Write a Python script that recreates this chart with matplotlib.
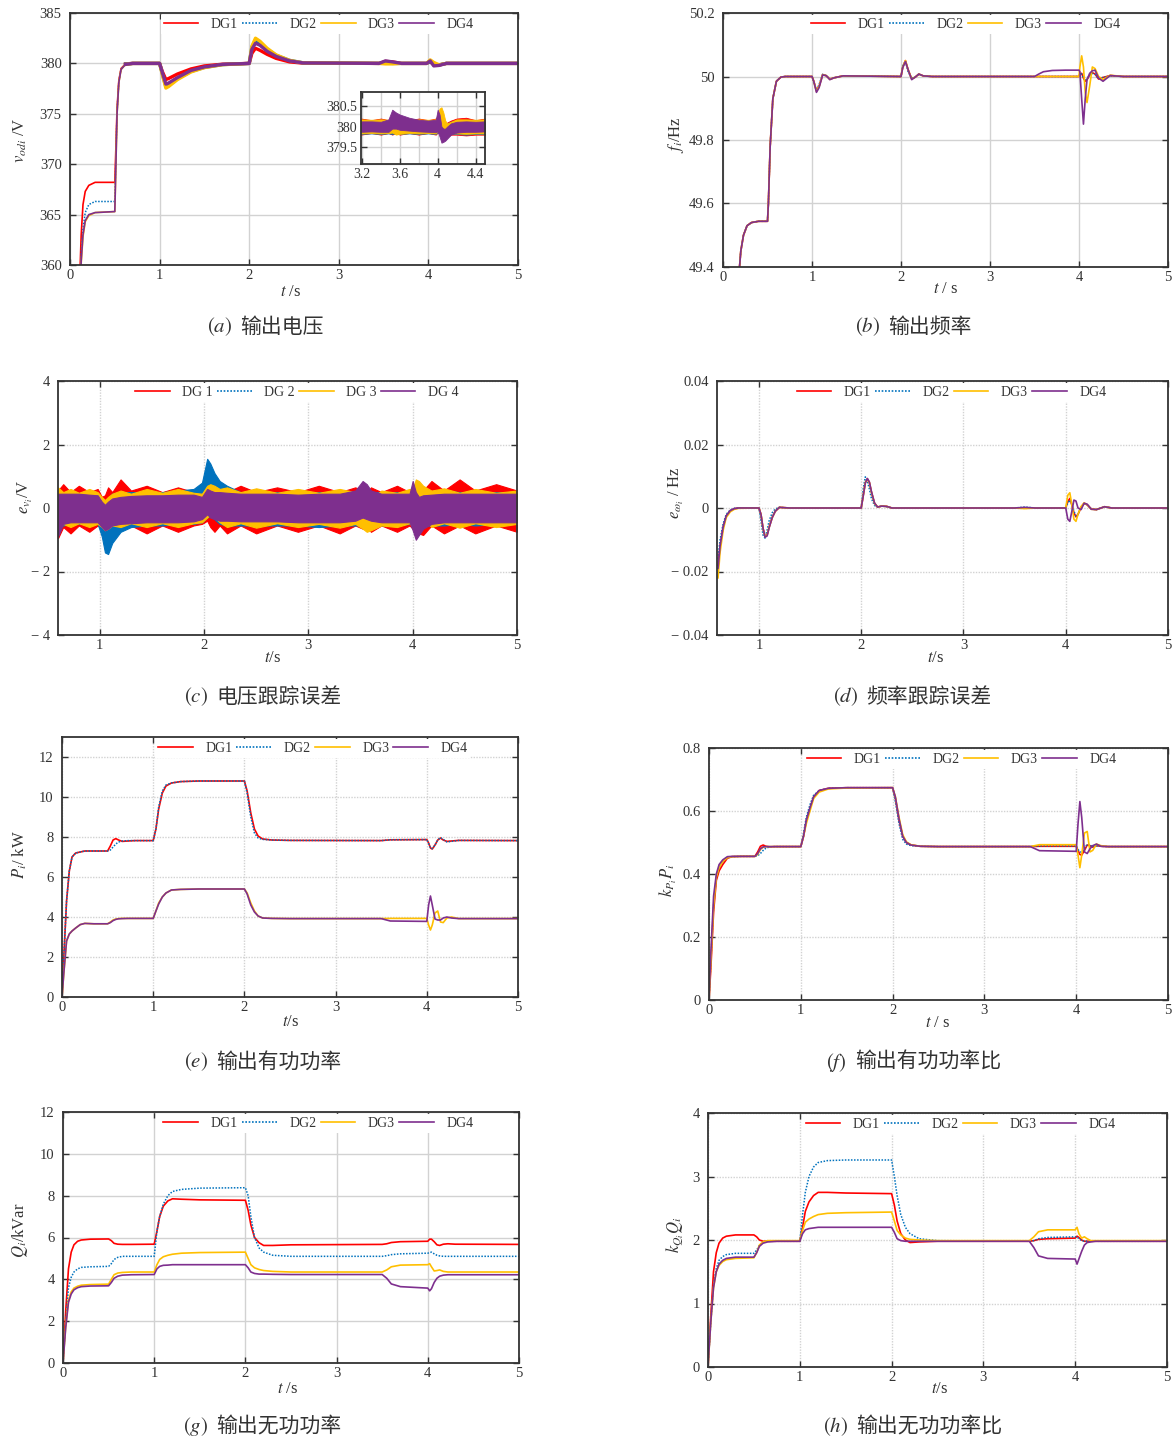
import matplotlib
matplotlib.use('Agg')
import matplotlib.pyplot as plt
from matplotlib.lines import Line2D

plt.rcParams['font.family'] = ['Liberation Serif', 'Noto Sans CJK SC', 'DejaVu Sans']
plt.rcParams['mathtext.fontset'] = 'stix'

# ---------------- data ----------------
series_labels = ['DG1', 'DG2', 'DG3', 'DG4']
series_labels_c = ['DG 1', 'DG 2', 'DG 3', 'DG 4']
colors = ['#FF0000', '#0072BD', '#FFBF00', '#7E2F8E']

# (a) output voltage
a_t = [0.11, 0.125, 0.145, 0.17, 0.21, 0.28, 0.5, 0.51, 0.525, 0.545, 0.57, 0.62, 0.7, 1.0, 1.03, 1.07, 1.1,
       1.2, 1.35, 1.5, 1.7, 2.0, 2.03, 2.07, 2.12, 2.2, 2.3, 2.45, 2.6, 3.45, 3.52, 3.6, 3.7, 3.98, 4.02, 4.06,
       4.12, 4.2, 5.0]
a_dg1 = [359, 363, 366, 367.3, 367.9, 368.2, 368.2, 371, 375.5, 378.3, 379.5, 379.95, 380, 380, 379.2, 378.4,
         378.5, 378.95, 379.45, 379.75, 379.92, 380, 381.0, 381.5, 381.3, 380.9, 380.5, 380.15, 380.03, 380,
         380.2, 380.15, 380, 380, 380.2, 379.85, 379.85, 380, 380]
a_dg2 = [358, 361.2, 363.6, 365.2, 366.0, 366.3, 366.3, 370, 375.2, 378.2, 379.45, 379.93, 380, 380, 379.0,
         377.7, 377.8, 378.5, 379.2, 379.6, 379.88, 380, 381.6, 382.3, 382.0, 381.4, 380.8, 380.3, 380.06, 380,
         380.05, 380.0, 380, 380, 380.2, 379.9, 379.85, 380, 380]
a_dg3 = [357, 360.2, 362.8, 364.3, 364.9, 365.2, 365.3, 369, 375, 378.1, 379.4, 379.9, 380, 380, 378.9, 377.55,
         377.7, 378.4, 379.15, 379.58, 379.87, 380, 381.7, 382.5, 382.2, 381.5, 380.85, 380.3, 380.06, 380,
         379.95, 379.95, 380, 380, 380.35, 380.1, 379.85, 380, 380]
a_dg4 = [357, 360.4, 363.0, 364.4, 365.0, 365.2, 365.3, 369, 375, 378.1, 379.4, 379.9, 380, 380, 379.1, 377.95,
         378.05, 378.6, 379.3, 379.65, 379.9, 380, 381.4, 382.0, 381.8, 381.2, 380.7, 380.25, 380.05, 380,
         380.25, 380.15, 380, 380, 380.25, 379.75, 379.8, 380, 380]

# (a) inset: noise envelopes (upper / lower)
ai_t = [3.19, 3.3, 3.4, 3.48, 3.52, 3.56, 3.6, 3.7, 3.8, 3.9, 3.98, 4.0, 4.02, 4.04, 4.06, 4.08, 4.1, 4.14,
        4.2, 4.3, 4.4, 4.5]
ai_dg1_up = [380.2, 380.16, 380.2, 380.16, 380.2, 380.18, 380.2, 380.16, 380.2, 380.16, 380.2, 380.25, 380.3,
             380.2, 380.1, 380.05, 380.1, 380.15, 380.2, 380.22, 380.16, 380.2]
ai_dg1_lo = [379.8, 379.84, 379.8, 379.84, 379.8, 379.84, 379.8, 379.84, 379.8, 379.84, 379.8, 379.85,
             379.85, 379.75, 379.7, 379.72, 379.75, 379.8, 379.8, 379.78, 379.8, 379.8]
ai_dg2_up = [380.17, 380.16, 380.17, 380.16, 380.17, 380.18, 380.17, 380.16, 380.17, 380.16, 380.17, 380.22,
             380.25, 380.15, 380.08, 380.05, 380.08, 380.12, 380.16, 380.17, 380.16, 380.17]
ai_dg2_lo = [379.82, 379.83, 379.82, 379.83, 379.82, 379.83, 379.82, 379.83, 379.82, 379.83, 379.82, 379.86,
             379.86, 379.78, 379.74, 379.75, 379.78, 379.82, 379.82, 379.8, 379.82, 379.82]
ai_dg3_up = [380.18, 380.17, 380.18, 380.17, 380.1, 380.1, 380.1, 380.16, 380.18, 380.17, 380.18, 380.3,
             380.45, 380.48, 380.35, 380.15, 380.08, 380.12, 380.18, 380.18, 380.17, 380.18]
ai_dg3_lo = [379.83, 379.84, 379.83, 379.84, 379.85, 379.8, 379.82, 379.84, 379.83, 379.84, 379.83, 379.88,
             379.95, 379.9, 379.8, 379.78, 379.8, 379.83, 379.83, 379.82, 379.83, 379.83]
ai_dg4_up = [380.13, 380.13, 380.12, 380.18, 380.42, 380.35, 380.3, 380.22, 380.17, 380.15, 380.17, 380.42,
             380.3, 380.0, 379.95, 379.95, 380.0, 380.08, 380.12, 380.13, 380.12, 380.13]
ai_dg4_lo = [379.87, 379.88, 379.87, 379.87, 379.95, 379.95, 379.92, 379.9, 379.88, 379.87, 379.86, 379.88,
             379.75, 379.6, 379.62, 379.65, 379.7, 379.8, 379.85, 379.87, 379.87, 379.88]

# (b) output frequency
b_t = [0.18, 0.2, 0.23, 0.27, 0.32, 0.4, 0.5, 0.51, 0.53, 0.56, 0.6, 0.65, 0.7, 1.0, 1.02, 1.05, 1.08, 1.12,
       1.16, 1.2, 1.25, 1.35, 2.0, 2.02, 2.05, 2.08, 2.12, 2.16, 2.2, 2.25, 2.35, 3.5, 3.55, 3.6, 3.7, 3.85,
       4.0, 4.01, 4.03, 4.05, 4.07, 4.09, 4.12, 4.15, 4.18, 4.22, 4.27, 4.35, 4.5, 5.0]
b_dg1 = [49.38, 49.45, 49.5, 49.53, 49.54, 49.544, 49.544, 49.6, 49.78, 49.93, 49.985, 49.998, 50, 50, 49.985,
         49.955, 49.97, 50.006, 50.002, 49.992, 49.996, 50.002, 50, 50.03, 50.05, 50.02, 49.993, 49.998, 50.007,
         50.002, 50, 50, 50, 50, 50, 50, 50, 50.008, 50.01, 49.995, 49.985, 49.99, 50.005, 50.012, 50.008,
         49.992, 49.997, 50.003, 50, 50]
b_dg2 = [49.38, 49.45, 49.5, 49.53, 49.54, 49.544, 49.544, 49.6, 49.78, 49.93, 49.985, 49.998, 50, 50, 49.98,
         49.957, 49.975, 50.007, 50.002, 49.993, 49.996, 50.002, 50, 50.034, 50.048, 50.015, 49.994, 49.999,
         50.006, 50.002, 50, 50, 50, 50, 50, 50, 50, 50.006, 50.008, 49.996, 49.987, 49.992, 50.004, 50.01,
         50.007, 49.993, 49.997, 50.002, 50, 50]
b_dg3 = [49.38, 49.45, 49.5, 49.53, 49.54, 49.544, 49.544, 49.6, 49.78, 49.93, 49.985, 49.998, 50, 50, 49.985,
         49.953, 49.968, 50.006, 50.003, 49.991, 49.996, 50.002, 50, 50.03, 50.05, 50.022, 49.992, 49.998,
         50.008, 50.002, 50, 50, 50, 50, 50, 50, 50, 50.03, 50.065, 50.03, 49.95, 49.918, 49.97, 50.03, 50.025,
         50.0, 49.99, 50.004, 50, 50]
b_dg4 = [49.38, 49.45, 49.5, 49.53, 49.54, 49.544, 49.544, 49.6, 49.78, 49.93, 49.985, 49.998, 50, 50, 49.985,
         49.95, 49.965, 50.005, 50.003, 49.99, 49.996, 50.002, 50, 50.028, 50.047, 50.022, 49.99, 49.998, 50.008,
         50.002, 50, 50, 50.008, 50.015, 50.019, 50.02, 50.02, 50.015, 49.93, 49.85, 49.93, 49.99, 50.01, 50.018,
         50.02, 49.995, 49.985, 50.003, 50, 50]

# (c) voltage tracking error: noise envelopes (upper / lower)
c_t = [0.6, 0.65, 0.72, 0.8, 0.9, 0.98, 1.02, 1.05, 1.08, 1.12, 1.2, 1.3, 1.45, 1.6, 1.75, 1.9, 1.98, 2.03,
       2.06, 2.1, 2.15, 2.22, 2.35, 2.5, 2.7, 2.9, 3.1, 3.3, 3.45, 3.52, 3.56, 3.6, 3.7, 3.85, 3.97, 4.0, 4.03,
       4.06, 4.1, 4.18, 4.3, 4.45, 4.6, 4.8, 5.0]
c_dg1_up = [0.55, 0.75, 0.5, 0.7, 0.5, 0.6, 0.35, 0.4, 0.65, 0.5, 0.9, 0.55, 0.7, 0.5, 0.65, 0.5, 0.45, 0.5,
            0.6, 0.5, 0.65, 0.5, 0.7, 0.5, 0.65, 0.5, 0.7, 0.5, 0.65, 0.55, 0.5, 0.65, 0.5, 0.7, 0.5, 0.5, 0.6,
            0.75, 0.55, 0.85, 0.55, 0.9, 0.55, 0.75, 0.55]
c_dg1_lo = [-0.95, -0.6, -0.8, -0.55, -0.75, -0.55, -0.65, -0.7, -0.6, -0.55, -0.7, -0.55, -0.8, -0.55, -0.75,
            -0.55, -0.5, -0.4, -0.6, -0.75, -0.55, -0.8, -0.55, -0.8, -0.55, -0.75, -0.55, -0.8, -0.55, -0.65,
            -0.6, -0.75, -0.55, -0.75, -0.55, -0.65, -0.75, -0.8, -0.85, -0.55, -0.8, -0.55, -0.8, -0.55, -0.75]
c_dg2_up = [0.5, 0.45, 0.45, 0.45, 0.45, 0.45, 0.3, 0.2, 0.3, 0.45, 0.5, 0.5, 0.5, 0.5, 0.55, 0.6, 0.8, 1.55,
            1.4, 1.1, 0.85, 0.7, 0.5, 0.5, 0.5, 0.5, 0.5, 0.5, 0.5, 0.55, 0.55, 0.5, 0.5, 0.5, 0.5, 0.55, 0.5,
            0.55, 0.5, 0.5, 0.55, 0.5, 0.5, 0.5, 0.5]
c_dg2_lo = [-0.6, -0.55, -0.5, -0.5, -0.5, -0.5, -0.9, -1.4, -1.45, -1.1, -0.75, -0.6, -0.55, -0.55, -0.5,
            -0.5, -0.45, -0.3, -0.25, -0.35, -0.5, -0.55, -0.55, -0.55, -0.55, -0.55, -0.6, -0.55, -0.55, -0.55,
            -0.55, -0.55, -0.55, -0.55, -0.5, -0.5, -0.6, -0.6, -0.55, -0.55, -0.55, -0.5, -0.55, -0.5, -0.5]
c_dg3_up = [0.65, 0.5, 0.6, 0.48, 0.6, 0.5, 0.35, 0.25, 0.35, 0.45, 0.55, 0.45, 0.6, 0.48, 0.6, 0.48, 0.45,
            0.7, 0.75, 0.7, 0.6, 0.65, 0.5, 0.62, 0.48, 0.6, 0.48, 0.6, 0.5, 0.4, 0.2, 0.3, 0.55, 0.48, 0.6,
            0.6, 0.9, 0.85, 0.7, 0.55, 0.62, 0.48, 0.6, 0.48, 0.55]
c_dg3_lo = [-0.7, -0.5, -0.6, -0.48, -0.6, -0.5, -0.6, -0.7, -0.65, -0.55, -0.6, -0.48, -0.6, -0.48, -0.6,
            -0.48, -0.45, -0.3, -0.2, -0.3, -0.45, -0.6, -0.48, -0.62, -0.48, -0.6, -0.5, -0.62, -0.5, -0.65,
            -0.75, -0.7, -0.55, -0.6, -0.48, -0.6, -0.5, -0.2, -0.3, -0.6, -0.48, -0.62, -0.48, -0.6, -0.5]
c_dg4_up = [0.45, 0.45, 0.45, 0.45, 0.42, 0.4, 0.2, 0.1, 0.2, 0.3, 0.35, 0.38, 0.4, 0.4, 0.42, 0.42, 0.35,
            0.6, 0.55, 0.5, 0.5, 0.48, 0.45, 0.45, 0.45, 0.42, 0.45, 0.45, 0.55, 0.85, 0.75, 0.55, 0.45, 0.45,
            0.45, 0.85, 0.5, 0.35, 0.4, 0.42, 0.45, 0.45, 0.45, 0.45, 0.45]
c_dg4_lo = [-0.9, -0.5, -0.45, -0.45, -0.45, -0.45, -0.6, -0.7, -0.65, -0.55, -0.5, -0.48, -0.45, -0.45,
            -0.45, -0.42, -0.35, -0.2, -0.3, -0.35, -0.4, -0.4, -0.42, -0.42, -0.42, -0.45, -0.45, -0.45, -0.4,
            -0.3, -0.35, -0.4, -0.45, -0.45, -0.45, -0.7, -1.0, -0.85, -0.65, -0.5, -0.45, -0.45, -0.45, -0.45,
            -0.45]
c_yticklabels = ['\u2212 4', '\u2212 2', '0', '2', '4']

# (d) frequency tracking error
d_t = [0.6, 0.62, 0.65, 0.68, 0.72, 0.76, 0.8, 1.0, 1.02, 1.04, 1.06, 1.08, 1.1, 1.13, 1.16, 1.2, 1.3, 2.0,
       2.02, 2.04, 2.06, 2.08, 2.1, 2.13, 2.16, 2.2, 2.25, 2.3, 3.5, 3.6, 3.7, 4.0, 4.02, 4.04, 4.06, 4.08, 4.1,
       4.12, 4.15, 4.18, 4.21, 4.25, 4.3, 4.38, 4.45, 5.0]
d_dg1 = [-0.018, -0.012, -0.006, -0.0025, -0.0008, -0.0002, 0, 0, -0.002, -0.0065, -0.009, -0.0085, -0.006,
         -0.003, -0.001, 0.0002, 0, 0, 0.004, 0.008, 0.0092, 0.008, 0.005, 0.0015, 0.0003, 0.0006, 0.0005, 0,
         0, 0, 0, 0, 0.002, 0.003, 0.001, -0.0015, -0.0028, -0.002, 0.0002, 0.0015, 0.001, -0.0003, -0.0005,
         0.0004, 0, 0]
d_dg2 = [-0.016, -0.01, -0.005, -0.002, -0.0006, -0.0001, 0, 0, -0.004, -0.0085, -0.0095, -0.007, -0.004,
         -0.0015, -0.0003, 0.0002, 0, 0, 0.006, 0.0098, 0.0085, 0.006, 0.003, 0.0008, 0.0003, 0.0006, 0.0004,
         0, 0, 0.0003, 0, 0, 0.0015, 0.0025, 0.001, -0.001, -0.0025, -0.002, 0.0002, 0.0014, 0.001, -0.0003,
         -0.0005, 0.0004, 0, 0]
d_dg3 = [-0.022, -0.014, -0.007, -0.003, -0.0012, -0.0004, -0.0001, 0, -0.002, -0.0065, -0.009, -0.0085,
         -0.006, -0.003, -0.001, 0.0002, 0, 0, 0.004, 0.008, 0.009, 0.008, 0.005, 0.0015, 0.0003, 0.0006,
         0.0005, 0, 0, -0.0002, 0, 0, 0.004, 0.0048, 0.001, -0.0035, -0.0042, -0.002, 0.0005, 0.0016, 0.001,
         -0.0004, -0.0005, 0.0004, 0, 0]
d_dg4 = [-0.019, -0.012, -0.006, -0.0025, -0.0008, -0.0002, 0, 0, -0.002, -0.0063, -0.0092, -0.0088, -0.0062,
         -0.003, -0.001, 0.0002, 0, 0, 0.0038, 0.0078, 0.0093, 0.0082, 0.0052, 0.0016, 0.0003, 0.0006, 0.0005,
         0, 0, 0.0002, 0, 0, -0.0035, -0.0042, -0.001, 0.0025, 0.0022, 0.0, -0.0005, 0.0015, 0.0012, -0.0004,
         -0.0005, 0.0004, 0, 0]
d_yticklabels = ['\u2212 0.04', '\u2212 0.02', '0', '0.02', '0.04']

# (e) active power (kW) and (f) active power ratio share this time base
e_t = [0, 0.02, 0.05, 0.08, 0.11, 0.15, 0.2, 0.25, 0.35, 0.5, 0.53, 0.56, 0.59, 0.62, 0.66, 0.72, 0.8, 1.0,
       1.03, 1.06, 1.1, 1.14, 1.2, 1.3, 1.5, 2.0, 2.03, 2.07, 2.11, 2.15, 2.2, 2.3, 2.5, 3.5, 3.6, 4.0, 4.02,
       4.04, 4.06, 4.09, 4.12, 4.15, 4.18, 4.22, 4.27, 4.35, 5.0]
e_dg1 = [0, 2.0, 4.8, 6.3, 7.0, 7.2, 7.25, 7.3, 7.3, 7.3, 7.55, 7.85, 7.92, 7.85, 7.78, 7.8, 7.82, 7.82, 8.4,
         9.4, 10.2, 10.55, 10.7, 10.77, 10.8, 10.8, 10.3, 9.2, 8.4, 8.05, 7.9, 7.85, 7.83, 7.82, 7.86, 7.87,
         7.7, 7.45, 7.4, 7.6, 7.85, 7.95, 7.85, 7.78, 7.8, 7.83, 7.82]
e_dg2 = [0, 2.0, 4.8, 6.3, 7.0, 7.2, 7.25, 7.3, 7.3, 7.3, 7.35, 7.5, 7.65, 7.75, 7.8, 7.82, 7.82, 7.82, 8.4,
         9.5, 10.3, 10.6, 10.7, 10.77, 10.8, 10.8, 10.2, 9.0, 8.2, 7.95, 7.88, 7.85, 7.83, 7.82, 7.86, 7.87,
         7.68, 7.45, 7.42, 7.6, 7.85, 7.97, 7.88, 7.75, 7.78, 7.83, 7.82]
e_dg3 = [0, 1.2, 2.8, 3.15, 3.3, 3.45, 3.62, 3.68, 3.66, 3.66, 3.75, 3.85, 3.9, 3.92, 3.93, 3.93, 3.93, 3.93,
         4.3, 4.7, 5.0, 5.2, 5.35, 5.38, 5.4, 5.4, 5.2, 4.7, 4.3, 4.05, 3.95, 3.93, 3.92, 3.92, 3.93, 3.93, 3.6,
         3.35, 3.6, 4.2, 4.3, 3.75, 3.72, 3.95, 4.0, 3.92, 3.92]
e_dg4 = [0, 1.2, 2.8, 3.15, 3.3, 3.45, 3.62, 3.68, 3.66, 3.66, 3.72, 3.82, 3.88, 3.91, 3.92, 3.93, 3.93, 3.93,
         4.3, 4.65, 5.0, 5.2, 5.35, 5.38, 5.4, 5.4, 5.15, 4.6, 4.25, 4.05, 3.95, 3.93, 3.92, 3.92, 3.8, 3.78,
         4.6, 5.05, 4.6, 3.9, 3.85, 3.85, 3.95, 4.0, 3.95, 3.92, 3.92]

f_dg1 = [0, 0.1, 0.28, 0.38, 0.41, 0.43, 0.45, 0.455, 0.456, 0.456, 0.47, 0.488, 0.492, 0.488, 0.486, 0.487,
         0.487, 0.487, 0.52, 0.57, 0.61, 0.645, 0.665, 0.672, 0.674, 0.674, 0.64, 0.57, 0.52, 0.5, 0.492, 0.488,
         0.487, 0.487, 0.488, 0.488, 0.475, 0.462, 0.46, 0.475, 0.492, 0.49, 0.485, 0.49, 0.488, 0.487, 0.487]
f_dg2 = [0, 0.12, 0.3, 0.39, 0.42, 0.44, 0.452, 0.455, 0.456, 0.456, 0.458, 0.465, 0.475, 0.482, 0.486, 0.487,
         0.487, 0.487, 0.53, 0.58, 0.62, 0.65, 0.665, 0.672, 0.674, 0.674, 0.63, 0.56, 0.51, 0.495, 0.49, 0.488,
         0.487, 0.487, 0.489, 0.489, 0.478, 0.47, 0.47, 0.48, 0.495, 0.492, 0.486, 0.489, 0.488, 0.487, 0.487]
f_dg3 = [0, 0.12, 0.3, 0.39, 0.42, 0.44, 0.452, 0.455, 0.456, 0.456, 0.462, 0.478, 0.485, 0.487, 0.487, 0.487,
         0.487, 0.487, 0.52, 0.56, 0.6, 0.64, 0.66, 0.67, 0.673, 0.674, 0.645, 0.58, 0.525, 0.502, 0.493, 0.488,
         0.487, 0.487, 0.493, 0.493, 0.46, 0.42, 0.46, 0.53, 0.535, 0.47, 0.475, 0.495, 0.49, 0.487, 0.487]
f_dg4 = [0, 0.15, 0.33, 0.4, 0.43, 0.445, 0.455, 0.456, 0.456, 0.456, 0.465, 0.48, 0.486, 0.487, 0.487, 0.487,
         0.487, 0.487, 0.52, 0.57, 0.61, 0.645, 0.665, 0.672, 0.674, 0.674, 0.645, 0.575, 0.52, 0.5, 0.492,
         0.488, 0.487, 0.487, 0.474, 0.472, 0.56, 0.63, 0.58, 0.47, 0.465, 0.48, 0.49, 0.495, 0.488, 0.487,
         0.487]

# (g) reactive power (kVar) and (h) reactive power ratio share this time base
g_t = [0, 0.03, 0.06, 0.09, 0.12, 0.16, 0.2, 0.3, 0.5, 0.53, 0.56, 0.6, 0.65, 0.75, 1.0, 1.03, 1.06, 1.1, 1.15,
       1.2, 1.3, 1.5, 2.0, 2.03, 2.06, 2.1, 2.15, 2.2, 2.3, 2.5, 3.5, 3.55, 3.6, 3.7, 4.0, 4.02, 4.04, 4.07,
       4.1, 4.13, 4.17, 4.22, 4.3, 5.0]
g_dg1 = [0, 2.5, 4.5, 5.3, 5.65, 5.82, 5.88, 5.92, 5.93, 5.85, 5.72, 5.68, 5.67, 5.67, 5.68, 6.3, 7.0, 7.5,
         7.75, 7.85, 7.83, 7.8, 7.78, 7.3, 6.6, 6.0, 5.75, 5.62, 5.62, 5.65, 5.67, 5.7, 5.76, 5.8, 5.82, 5.92,
         5.92, 5.8, 5.65, 5.62, 5.68, 5.7, 5.68, 5.67]
g_dg2 = [0, 2.0, 3.6, 4.1, 4.35, 4.5, 4.57, 4.6, 4.62, 4.75, 4.95, 5.05, 5.1, 5.1, 5.1, 6.3, 7.0, 7.6, 8.0,
         8.2, 8.3, 8.36, 8.38, 8.0, 7.0, 6.0, 5.5, 5.3, 5.15, 5.1, 5.1, 5.13, 5.18, 5.22, 5.25, 5.28, 5.3, 5.22,
         5.15, 5.12, 5.1, 5.1, 5.1, 5.1]
g_dg3 = [0, 1.8, 3.0, 3.4, 3.58, 3.67, 3.72, 3.75, 3.77, 4.0, 4.22, 4.3, 4.33, 4.35, 4.35, 4.7, 4.95, 5.08,
         5.15, 5.2, 5.25, 5.28, 5.3, 5.0, 4.7, 4.55, 4.47, 4.42, 4.38, 4.35, 4.35, 4.45, 4.6, 4.68, 4.7, 4.75,
         4.6, 4.4, 4.42, 4.45, 4.38, 4.35, 4.35, 4.35]
g_dg4 = [0, 1.7, 2.9, 3.3, 3.5, 3.6, 3.65, 3.68, 3.69, 3.85, 4.05, 4.15, 4.2, 4.22, 4.23, 4.5, 4.62, 4.67,
         4.68, 4.7, 4.7, 4.7, 4.7, 4.55, 4.35, 4.28, 4.25, 4.25, 4.24, 4.23, 4.23, 4.05, 3.78, 3.65, 3.58, 3.45,
         3.55, 3.85, 4.05, 4.15, 4.2, 4.22, 4.22, 4.22]

h_dg1 = [0, 0.8, 1.5, 1.8, 1.95, 2.03, 2.06, 2.08, 2.08, 2.05, 2.0, 1.98, 1.98, 1.98, 1.98, 2.2, 2.45, 2.6,
         2.7, 2.75, 2.75, 2.74, 2.73, 2.55, 2.3, 2.1, 2.0, 1.96, 1.97, 1.98, 1.98, 1.99, 2.01, 2.02, 2.03, 2.06,
         2.04, 2.0, 1.98, 1.98, 1.98, 1.98, 1.98, 1.98]
h_dg2 = [0, 0.7, 1.3, 1.55, 1.68, 1.74, 1.77, 1.79, 1.79, 1.84, 1.92, 1.97, 1.98, 1.98, 1.98, 2.4, 2.75, 3.0,
         3.15, 3.22, 3.25, 3.26, 3.26, 3.0, 2.7, 2.4, 2.2, 2.1, 2.02, 1.99, 1.98, 1.99, 2.02, 2.04, 2.05, 2.05,
         2.02, 1.99, 1.98, 1.98, 1.98, 1.98, 1.98, 1.98]
h_dg3 = [0, 0.7, 1.25, 1.5, 1.6, 1.66, 1.69, 1.71, 1.72, 1.8, 1.92, 1.97, 1.99, 1.99, 1.99, 2.15, 2.28, 2.33,
         2.37, 2.4, 2.42, 2.43, 2.44, 2.3, 2.15, 2.08, 2.03, 2.01, 2.0, 1.99, 1.99, 2.05, 2.13, 2.16, 2.16, 2.2,
         2.1, 2.03, 2.05, 2.02, 1.99, 1.99, 1.99, 1.99]
h_dg4 = [0, 0.7, 1.25, 1.5, 1.62, 1.68, 1.71, 1.73, 1.73, 1.8, 1.9, 1.95, 1.97, 1.98, 1.98, 2.1, 2.16, 2.18,
         2.19, 2.2, 2.2, 2.2, 2.2, 2.12, 2.02, 1.99, 1.98, 1.98, 1.98, 1.98, 1.98, 1.88, 1.75, 1.71, 1.7, 1.62,
         1.7, 1.82, 1.92, 1.96, 1.97, 1.98, 1.98, 1.98]

captions = [('a', '输出电压'), ('b', '输出频率'), ('c', '电压跟踪误差'), ('d', '频率跟踪误差'),
            ('e', '输出有功功率'), ('f', '输出有功功率比'), ('g', '输出无功功率'), ('h', '输出无功功率比')]

# ---------------- figure ----------------
W, H = 1173, 1442
fig = plt.figure(figsize=(W / 100, H / 100), dpi=100)
fig.patch.set_facecolor('white')
LS = ['-', (0, (1, 1)), '-', '-']
TXT = '#333333'


def axes_px(box):
    l, t, r, b = box
    return fig.add_axes([l / W, 1 - b / H, (r - l) / W, (b - t) / H])


def style(ax, xlim, ylim, xticks, yticks, yticklabels=None, grid_ls='-', labelsize=10.5):
    ax.set_xlim(xlim)
    ax.set_ylim(ylim)
    ax.set_xticks(xticks)
    ax.set_yticks(yticks)
    if yticklabels is not None:
        ax.set_yticklabels(yticklabels)
    ax.grid(True, color='#d2d2d2', lw=1.0, ls=grid_ls)
    ax.set_axisbelow(True)
    ax.tick_params(direction='in', length=4, width=1, labelsize=labelsize, right=True, top=True,
                   colors=TXT, labelcolor=TXT, pad=3)
    ax.tick_params(axis='y', pad=6)
    for s in ax.spines.values():
        s.set_color('#333333')
        s.set_linewidth(1.3)


def add_legend(ax, labels, cx):
    handles = [Line2D([], [], color=c, ls=ls, lw=1.2) for c, ls in zip(colors, LS)]
    leg = ax.legend(handles, labels, loc='upper center', bbox_to_anchor=(cx, 1.0), ncol=4, frameon=True,
                    fancybox=False, framealpha=1, edgecolor='none', facecolor='white', fontsize=10,
                    handlelength=2.5, handletextpad=0.9, columnspacing=0.3, borderpad=0.2,
                    borderaxespad=0.15)
    for t in leg.get_texts():
        t.set_color(TXT)
    leg.set_zorder(5)


def labels(ax, box, xlab, xpos, ylab, ypos):
    l, t, r, b = box
    ax.set_xlabel(xlab, fontsize=12, color=TXT, va='center')
    ax.xaxis.set_label_coords((xpos[0] - l) / (r - l), (b - xpos[1]) / (b - t))
    ax.set_ylabel(ylab, fontsize=12, color=TXT, va='center')
    ax.yaxis.set_label_coords((ypos[0] - l) / (r - l), (b - ypos[1]) / (b - t))


def caption(letter, text, xr, y):
    fig.text(xr / W, 1 - y / H, f'$({letter})$', ha='right', va='center', fontsize=15, color=TXT)
    fig.text((xr + 8) / W, 1 - y / H, text, ha='left', va='center', fontsize=15, color=TXT,
             family=['Noto Sans CJK SC'])


def plot_lines(ax, t, ys, lw=1.2):
    for y, c, ls in zip(ys, colors, LS):
        ax.plot(t, y, color=c, ls=ls, lw=(lw if ls == '-' else 1.1))


# (a)
box_a = (70, 13, 518, 265)
ax = axes_px(box_a)
style(ax, (0, 5), (360, 385), [0, 1, 2, 3, 4, 5], [360, 365, 370, 375, 380, 385])
plot_lines(ax, a_t, [a_dg1, a_dg2, a_dg3, a_dg4], lw=1.2)
# noisy steady-state section drawn thicker (noise band of the measured voltage)
for y, c in zip([a_dg1, a_dg2, a_dg3, a_dg4], colors):
    ax.plot(a_t[11:], y[11:], color=c, lw=2.4)
add_legend(ax, series_labels, 0.555)
labels(ax, box_a, r'$t$ /s', (291, 292), r'$v_{odi}$ /V', (20, 140))

box_ai = (361, 92, 485, 164)
axi = axes_px(box_ai)
style(axi, (3.19, 4.5), (379.07, 380.86), [3.2, 3.6, 4.0, 4.4], [379.5, 380, 380.5],
      yticklabels=['379.5', '380', '380.5'], labelsize=10)
axi.set_xticklabels(['3.2', '3.6', '4', '4.4'])
axi.set_xticks([3.4, 3.8, 4.2], minor=True)
axi.grid(True, which='minor', axis='x', color='#d2d2d2', lw=1.0)
axi.tick_params(which='minor', length=0)
axi.tick_params(axis='y', pad=3)
axi.tick_params(axis='x', pad=3)
for up, lo, c in zip([ai_dg1_up, ai_dg2_up, ai_dg3_up, ai_dg4_up], [ai_dg1_lo, ai_dg2_lo, ai_dg3_lo, ai_dg4_lo],
                     colors):
    axi.fill_between(ai_t, lo, up, color=c, lw=0.6, edgecolor=c)

# (b)
box_b = (723, 13, 1168, 267)
ax = axes_px(box_b)
style(ax, (0, 5), (49.4, 50.2), [0, 1, 2, 3, 4, 5], [49.4, 49.6, 49.8, 50.0, 50.2],
      yticklabels=['49.4', '49.6', '49.8', '50', '50.2'])
plot_lines(ax, b_t, [b_dg1, b_dg2, b_dg3, b_dg4])
add_legend(ax, series_labels, 0.545)
labels(ax, box_b, r'$t$ / s', (946, 289), r'$f_i$/Hz', (676, 135))

# (c)
box_c = (58, 381, 517, 635)
ax = axes_px(box_c)
style(ax, (0.6, 5), (-4, 4), [1, 2, 3, 4, 5], [-4, -2, 0, 2, 4], yticklabels=c_yticklabels,
      grid_ls=(0, (1, 1)))
for up, lo, c in zip([c_dg1_up, c_dg2_up, c_dg3_up, c_dg4_up], [c_dg1_lo, c_dg2_lo, c_dg3_lo, c_dg4_lo],
                     colors):
    ax.fill_between(c_t, lo, up, color=c, lw=0.8, edgecolor=c)
add_legend(ax, series_labels_c, 0.52)
labels(ax, box_c, r'$t$/s', (273, 658), r'$e_{v_i}$/V', (25, 497))

# (d)
box_d = (717, 381, 1168, 635)
ax = axes_px(box_d)
style(ax, (0.59, 5), (-0.04, 0.04), [1, 2, 3, 4, 5], [-0.04, -0.02, 0, 0.02, 0.04],
      yticklabels=d_yticklabels, grid_ls=(0, (1, 1)))
plot_lines(ax, d_t, [d_dg1, d_dg2, d_dg3, d_dg4])
add_legend(ax, series_labels, 0.52)
labels(ax, box_d, r'$t$/s', (936, 658), r'$e_{\omega_i}$ / Hz', (676, 493))

# (e)
box_e = (62, 737, 518, 997)
ax = axes_px(box_e)
style(ax, (0, 5), (0, 13), [0, 1, 2, 3, 4, 5], [0, 2, 4, 6, 8, 10, 12], grid_ls=(0, (1, 1)))
plot_lines(ax, e_t, [e_dg1, e_dg2, e_dg3, e_dg4])
add_legend(ax, series_labels, 0.55)
labels(ax, box_e, r'$t$/s', (291, 1022), r'$P_i$/ kW', (20, 855))

# (f)
box_f = (709, 748, 1168, 1000)
ax = axes_px(box_f)
style(ax, (0, 5), (0, 0.8), [0, 1, 2, 3, 4, 5], [0, 0.2, 0.4, 0.6, 0.8],
      yticklabels=['0', '0.2', '0.4', '0.6', '0.8'], grid_ls=(0, (1, 1)))
plot_lines(ax, e_t, [f_dg1, f_dg2, f_dg3, f_dg4])
add_legend(ax, series_labels, 0.55)
labels(ax, box_f, r'$t$ / s', (938, 1023), r'$k_{P_i}P_i$', (668, 880))

# (g)
box_g = (63, 1112, 519, 1363)
ax = axes_px(box_g)
style(ax, (0, 5), (0, 12), [0, 1, 2, 3, 4, 5], [0, 2, 4, 6, 8, 10, 12])
plot_lines(ax, g_t, [g_dg1, g_dg2, g_dg3, g_dg4])
add_legend(ax, series_labels, 0.56)
labels(ax, box_g, r'$t$ /s', (288, 1389), r'$Q_i$/kVar', (20, 1230))

# (h)
box_h = (708, 1113, 1167, 1367)
ax = axes_px(box_h)
style(ax, (0, 5), (0, 4), [0, 1, 2, 3, 4, 5], [0, 1, 2, 3, 4], grid_ls=(0, (1, 1)))
plot_lines(ax, g_t, [h_dg1, h_dg2, h_dg3, h_dg4])
add_legend(ax, series_labels, 0.55)
labels(ax, box_h, r'$t$/s', (940, 1389), r'$k_{Q_i}Q_i$', (675, 1235))

# captions
cap_pos = [(232, 327), (880, 327), (208, 697), (858, 697), (208, 1062), (847, 1062), (208, 1427), (848, 1427)]
for (letter, text), (xr, y) in zip(captions, cap_pos):
    caption(letter, text, xr, y)

fig.savefig('out.png', dpi=100, facecolor='white')
